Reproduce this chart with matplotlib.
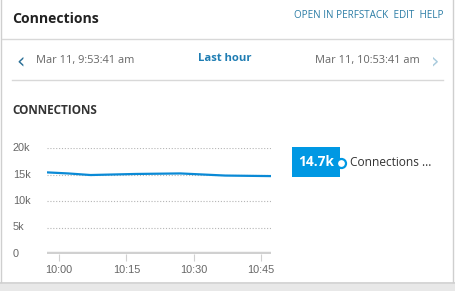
import numpy as np
import matplotlib.pyplot as plt
from matplotlib.patches import Rectangle
from matplotlib.lines import Line2D

# data: minutes after 10:00 and connection counts
minutes = [-2.7, 2, 7, 12, 17, 22, 27, 32, 37, 42, 47.2]
connections = [15400, 15200, 14900, 15000, 15100, 15150, 15200, 15000, 14800, 14750, 14700]
x_ticks = [0, 15, 30, 45]
x_labels = ['10:00', '10:15', '10:30', '10:45']
y_ticks = [0, 5000, 10000, 15000, 20000]
y_labels = ['0', '5k', '10k', '15k', '20k']
last_value = '14.7k'
series_name = 'Connections ...'

W, H = 455, 291
dpi = 100
fig = plt.figure(figsize=(W / dpi, H / dpi), dpi=dpi)
fig.patch.set_facecolor('white')

def fx(px):
    return px / W

def fy(py):
    return 1 - py / H

# card background / borders
bg = fig.add_axes([0, 0, 1, 1], zorder=-5)
bg.set_xlim(0, W)
bg.set_ylim(H, 0)
bg.axis('off')
bg.add_patch(Rectangle((0, 283), W, 10, color='#e8e8e8', lw=0))
bg.add_patch(Rectangle((0, 281.5), W, 2, color='#d6d6d6', lw=0))
bg.plot([1, 1], [0, 282], color='#cfcfcf', lw=1)
bg.plot([453, 453], [0, 282], color='#cfcfcf', lw=1)
bg.plot([2, 453], [39, 39], color='#d8d8d8', lw=1)
bg.plot([12, 443], [80, 80], color='#d8d8d8', lw=1)

font = 'Open Sans'
fig.text(fx(12), fy(19), 'Connections', fontsize=10.1, fontweight='bold',
         color='#222222', family=font, va='center')
fig.text(fx(444), fy(16), 'OPEN IN PERFSTACK  EDIT  HELP', fontsize=7.1,
         color='#2a7ca5', family=font, va='center', ha='right')
fig.text(fx(21), fy(61), '\u2039', fontsize=15, color='#2a6f96', family='DejaVu Sans',
         va='center', ha='center')
fig.text(fx(36), fy(61), 'Mar 11, 9:53:41 am', fontsize=7.9, color='#666666',
         family=font, va='center')
fig.text(fx(225), fy(59), 'Last hour', fontsize=8.1, fontweight='bold',
         color='#1f7db3', family=font, va='center', ha='center')
fig.text(fx(420), fy(61), 'Mar 11, 10:53:41 am', fontsize=7.9, color='#666666',
         family=font, va='center', ha='right')
fig.text(fx(435), fy(61), '\u203a', fontsize=15, color='#a9cbdd', family='DejaVu Sans',
         va='center', ha='center')
fig.text(fx(12), fy(110), 'CONNECTIONS', fontsize=8.5, fontweight='bold',
         color='#333333', family=font, va='center')

# chart
left, right, top, bottom = 47, 271, 148, 254
ax = fig.add_axes([fx(left), fy(bottom), fx(right - left), (bottom - top) / H])
ax.plot(minutes, connections, color='#0a8ad6', lw=1.6, solid_capstyle='butt')
ax.set_xlim(minutes[0], minutes[-1])
ax.set_ylim(0, 20000)
for s in ax.spines.values():
    s.set_visible(False)
for v in y_ticks[1:]:
    ax.axhline(v, color='#b5b5b5', lw=0.8, ls=(0, (1, 1.6)), zorder=0)
ax.axhline(0, color='#d0d0d0', lw=3.2, zorder=1, solid_capstyle='butt')
ax.set_yticks([])
ytr = ax.get_yaxis_transform()
for v, lab in zip(y_ticks, y_labels):
    ax.text(-0.152, v, lab, transform=ytr, ha='left', va='center', fontsize=7.8,
            color='#666666', family='Liberation Sans')
ax.set_xticks(x_ticks)
ax.set_xticklabels(x_labels, family='Liberation Sans', fontsize=7.8, color='#666666')
ax.tick_params(axis='x', length=5, width=0.8, color='#d0d0d0', pad=3)

# legend block
bg.add_patch(Rectangle((292, 147), 48, 30, color='#0098e3', lw=0))
bg.text(316, 162.5, last_value, fontsize=9.8, fontweight='bold', color='white',
        family=font, ha='center', va='center')
bg.add_line(Line2D([341], [162.5], marker='o', markersize=6.5, markerfacecolor='white',
                   markeredgecolor='#0098e3', markeredgewidth=1.6))
bg.text(350, 162.5, series_name, fontsize=8.6, color='#333333', family=font,
        ha='left', va='center')

fig.savefig('out.png', dpi=dpi)
